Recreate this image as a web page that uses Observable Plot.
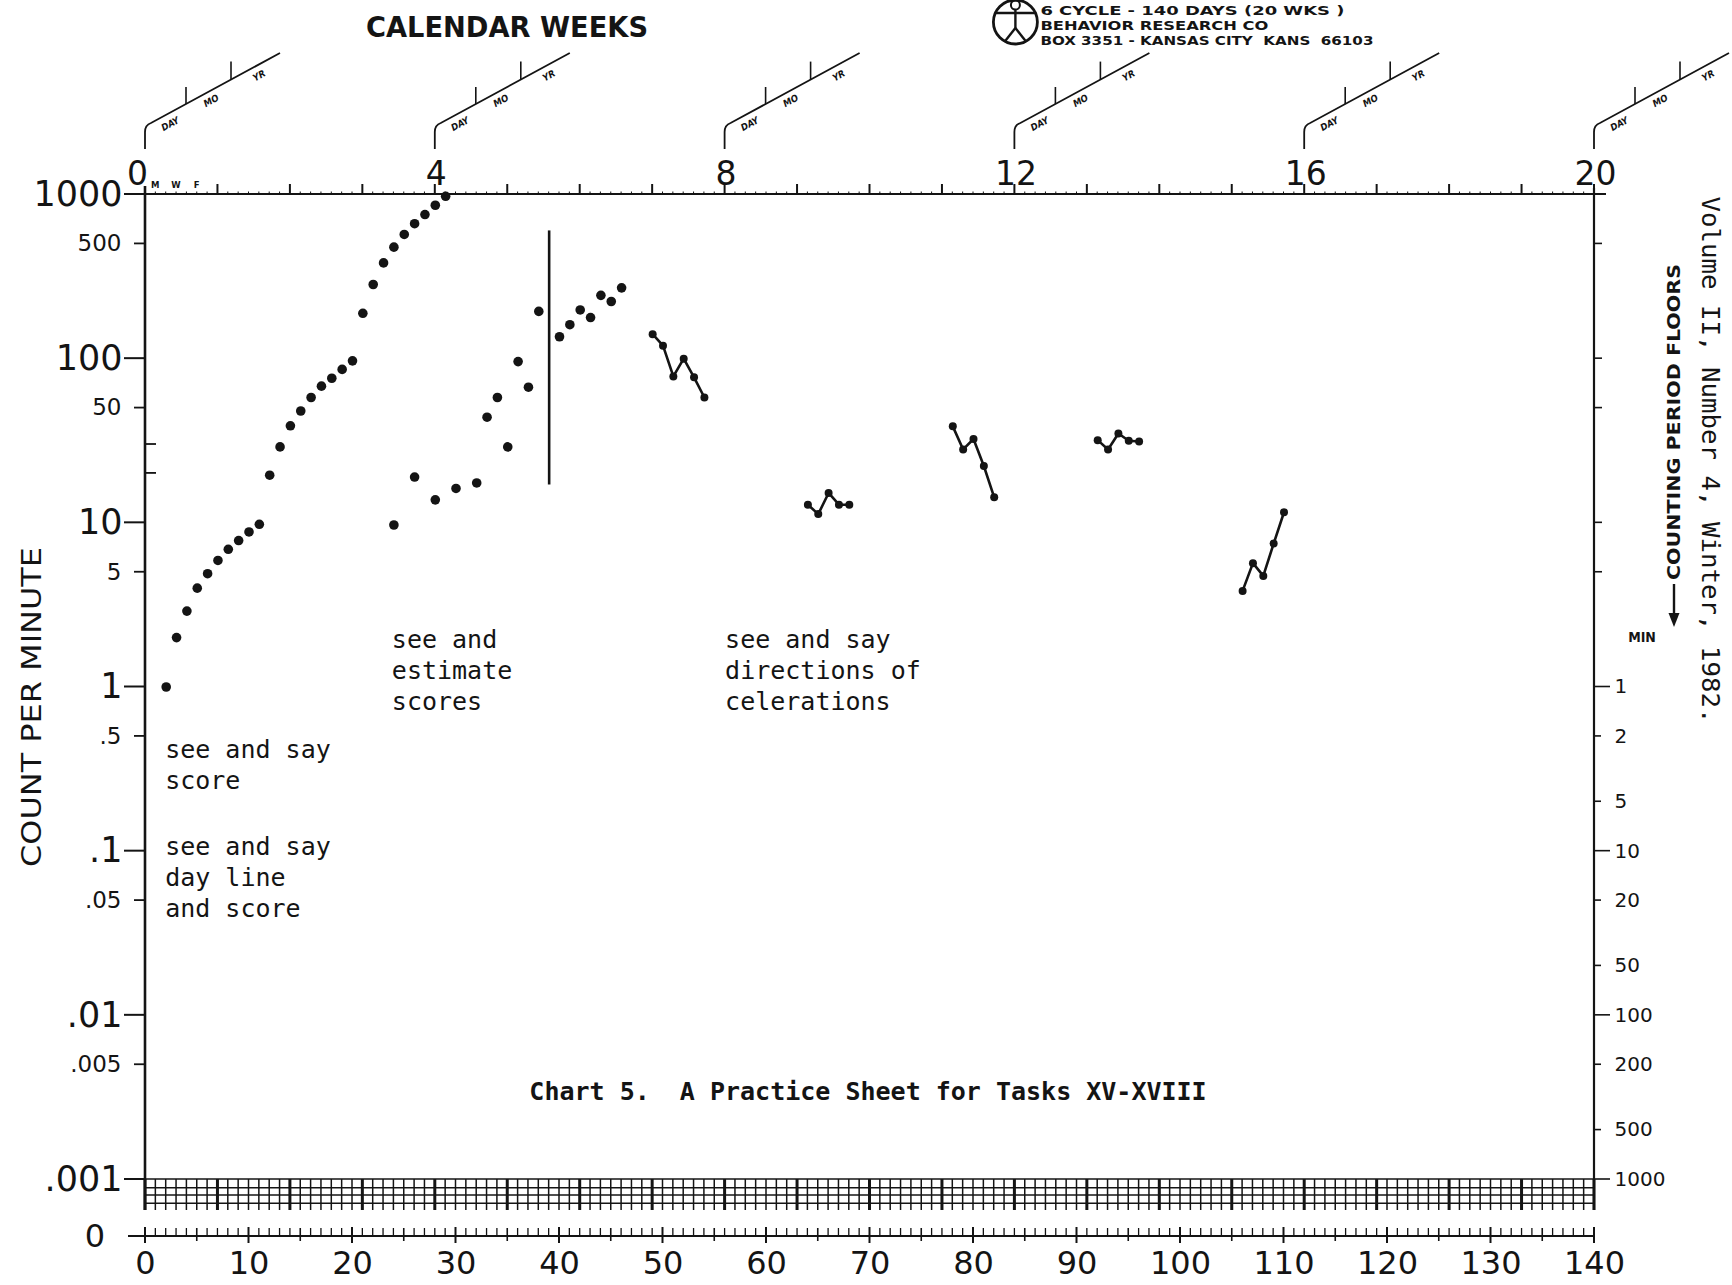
<!DOCTYPE html>
<html>
<head>
<meta charset="utf-8">
<script src="https://cdn.jsdelivr.net/npm/d3@7"></script>
<script src="https://cdn.jsdelivr.net/npm/@observablehq/plot@0.6"></script>
<style>
html, body { margin: 0; padding: 0; background: #fff; }
#chart svg { display: block; }
</style>
</head>
<body>
<div id="chart"></div>
<script>
const INK = "#141414";
const MONO = "'DejaVu Sans Mono', 'Liberation Mono', monospace";
const SANS = "'DejaVu Sans', 'Noto Sans', sans-serif";
const COND = "'DejaVu Sans Condensed', 'DejaVu Sans', sans-serif";

// ---------------- data ----------------
// calendar weeks labelled along the top, day numbers along the bottom
const weekNumbers = [0, 4, 8, 12, 16, 20];
const dayLabels = [0, 10, 20, 30, 40, 50, 60, 70, 80, 90, 100, 110, 120, 130, 140];
const weekdayLetters = ["M", "W", "F"];
const weekdayDays = [1, 3, 5];

// count-per-minute axis
const decadeTicks = [1000, 100, 10, 1, 0.1, 0.01, 0.001];
const decadeLabels = ["1000", "100", "10", "1", ".1", ".01", ".001"];
const halfTicks = [500, 50, 5, 0.5, 0.05, 0.005];
const halfLabels = ["500", "50", "5", ".5", ".05", ".005"];
const innerTicks = [30, 20];
const rightTicks = [500, 100, 50, 10, 5];

// counting period floors (minutes)
const floorMinutes = [1, 2, 5, 10, 20, 50, 100, 200, 500, 1000];
const floorLabels = ["1", "2", "5", "10", "20", "50", "100", "200", "500", "1000"];

// "see and say score" dots
const sayScoreDays = [2, 3, 4, 5, 6, 7, 8, 9, 10, 11, 12, 13, 14, 15, 16, 17, 18, 19, 20, 21, 22, 23, 24, 25, 26, 27, 28, 29];
const sayScoreCounts = [1.0, 2.0, 2.9, 4.0, 4.9, 5.9, 6.9, 7.8, 8.8, 9.8, 19.5, 29, 39, 48, 58, 68, 76, 86, 97, 189, 283, 383, 478, 571, 664, 755, 860, 975];

// "see and estimate scores" dots
const estimateDays = [24, 26, 28, 30, 32, 33, 34, 35, 36, 37, 38, 40, 41, 42, 43, 44, 45, 46];
const estimateCounts = [9.7, 19, 13.8, 16.2, 17.5, 44, 58, 29, 96, 67, 194, 136, 161, 198, 178, 243, 223, 270];

// phase change line
const phaseDays = [39];
const phaseLow = 17;
const phaseHigh = 600;

// celeration practice sets (connected)
const celerationSets = ["A", "B", "C", "D", "E"];
const celerationDays = [
  [49, 50, 51, 52, 53, 54],
  [64, 65, 66, 67, 68],
  [78, 79, 80, 81, 82],
  [92, 93, 94, 95, 96],
  [106, 107, 108, 109, 110]
];
const celerationCounts = [
  [141, 120, 78, 100, 77, 58],
  [12.9, 11.3, 15.2, 12.9, 12.9],
  [38.7, 28, 32.4, 22.2, 14.3],
  [31.9, 28, 35, 31.6, 31.3],
  [3.85, 5.68, 4.75, 7.48, 11.6]
];

// notes written on the sheet
const noteTexts = ["see and say\nscore", "see and say\nday line\nand score", "see and\nestimate\nscores", "see and say\ndirections of\ncelerations"];
const noteDays = [1.9, 1.9, 23.8, 56.0];
const noteCounts = [0.24, 0.0398, 0.724, 0.724];

const captionText = "Chart 5.  A Practice Sheet for Tasks XV-XVIII";

// ---------------- tables ----------------
const sayScore = sayScoreDays.map((d, i) => ({day: d, count: sayScoreCounts[i]}));
const estimate = estimateDays.map((d, i) => ({day: d, count: estimateCounts[i]}));
const celeration = celerationSets.flatMap((s, k) => celerationDays[k].map((d, i) => ({set: s, day: d, count: celerationCounts[k][i]})));
const notes = noteTexts.map((t, i) => ({text: t, day: noteDays[i], count: noteCounts[i]}));
const decades = decadeTicks.map((v, i) => ({v, label: decadeLabels[i]}));
const halves = halfTicks.map((v, i) => ({v, label: halfLabels[i]}));
const floors = floorMinutes.map((m, i) => ({count: 1 / m, label: floorLabels[i]}));
const weekdays = weekdayDays.map((d, i) => ({day: d, label: weekdayLetters[i]}));

// ---------------- sheet furniture (drawn from the plot's scales) ----------------
function chartSheet(index, scales) {
  const x = scales.x, y = scales.y;
  const L = x(0), R = x(140), T = y(1000), F = y(0.001);
  const g = d3.create("svg:g").attr("fill", "none").attr("stroke", INK).attr("stroke-linecap", "butt");
  const seg = (x1, y1, x2, y2, w) => g.append("line").attr("x1", x1).attr("y1", y1).attr("x2", x2).attr("y2", y2).attr("stroke-width", w);
  const txt = (s, o) => {
    const t = g.append("text").attr("fill", INK).attr("stroke", "none")
      .attr("font-family", o.family || SANS).attr("font-size", o.size || 12)
      .attr("font-weight", o.weight || "normal").attr("text-anchor", o.anchor || "start")
      .attr("transform", o.transform).text(s);
    if (o.style) t.attr("font-style", o.style);
    if (o.baseline) t.attr("dominant-baseline", o.baseline);
    if (o.length) t.attr("textLength", o.length).attr("lengthAdjust", "spacingAndGlyphs");
    return t;
  };

  // top day line with week ticks
  seg(L - 21, T, R + 12, T, 2.2);
  for (let d = 1; d < 140; d++) if (d % 7) seg(x(d), T - 2.5, x(d), T + 0.5, 1);
  for (let w = 1; w <= 20; w++) seg(x(w * 7), T - 10, x(w * 7), T + 1, 2);

  // vertical axes
  seg(L, T - 8, L, F + 31, 2.6);
  seg(R, T - 6, R, F + 31, 2.2);

  // left ticks
  decadeTicks.forEach(v => seg(L - 21, y(v), L, y(v), 2));
  halfTicks.forEach(v => seg(L - 11, y(v), L, y(v), 1.8));
  innerTicks.forEach(v => seg(L, y(v), L + 11, y(v), 1.8));

  // right ticks and counting-period floors
  rightTicks.forEach(v => seg(R, y(v), R + 8, y(v), 1.6));
  floorMinutes.forEach(m => seg(R, y(1 / m), R + (Math.log10(m) % 1 === 0 ? 16 : 7), y(1 / m), 1.6));

  // hatched band below .001
  [0, 8.7, 16, 24.3].forEach(o => seg(L, F + o, R, F + o, 1.4));
  for (let d = 0; d <= 140; d++) seg(x(d), F, x(d), F + 31, d % 7 === 0 ? 3 : 1.5);

  // zero line
  const Z = F + 57;
  seg(L - 17, Z, R, Z, 2);
  for (let d = 0; d <= 140; d++) {
    if (d % 10 === 0) seg(x(d), Z - 9, x(d), Z + 7, 2);
    else if (d % 5 === 0) seg(x(d), Z - 8, x(d), Z + 5, 1.6);
    else seg(x(d), Z - 8, x(d), Z, 1.3);
  }
  txt("0", {transform: `translate(${L - 40},${Z})`, size: 32, anchor: "end", baseline: "central"});

  // DAY / MO / YR date boxes
  const k = 70 / 129, ang = -Math.atan(k) * 180 / Math.PI;
  const diagY = (r) => T - 71 - k * (r - 6);
  weekNumbers.forEach(w => {
    const x0 = x(w * 7);
    g.append("path").attr("stroke-width", 1.8)
      .attr("d", `M${x0},${T - 45}V${T - 62}Q${x0},${T - 69} ${x0 + 6},${T - 71}L${x0 + 135},${diagY(135)}`);
    seg(x0 + 41, diagY(41), x0 + 41, diagY(41) - 17, 1.6);
    seg(x0 + 86, diagY(86), x0 + 86, diagY(86) - 18, 1.6);
    [["DAY", 25, 11], ["MO", 66, 10], ["YR", 114, 11]].forEach(([s, r, off]) =>
      txt(s, {transform: `translate(${x0 + r},${diagY(r) + off}) rotate(${ang})`, size: 9.5, weight: "bold",
              style: "italic", family: COND, anchor: "middle", baseline: "central"}));
  });

  // heading
  txt("CALENDAR WEEKS", {transform: `translate(${L + 362},${T - 157})`, size: 29, weight: "bold",
                         family: COND, anchor: "middle", length: 282});

  // publisher logo
  const cx = x(84) + 1, cy = T - 172;
  g.append("circle").attr("cx", cx).attr("cy", cy).attr("r", 22).attr("stroke-width", 2.8);
  g.append("circle").attr("cx", cx).attr("cy", cy - 17).attr("r", 4.5).attr("stroke-width", 2);
  seg(cx - 21, cy - 9, cx + 21, cy - 9, 2.4);
  seg(cx, cy - 12, cx, cy + 6, 2.4);
  seg(cx, cy + 6, cx - 11, cy + 20, 2.4);
  seg(cx, cy + 6, cx + 11, cy + 20, 2.4);
  [["6 CYCLE - 140 DAYS (20 WKS )", -7.5, 304], ["BEHAVIOR RESEARCH CO", 8, 228], ["BOX 3351 - KANSAS CITY  KANS  66103", 23, 333]]
    .forEach(([s, dy, len]) => txt(s, {transform: `translate(${cx + 25},${cy + dy})`, size: 13, weight: "bold", family: COND, length: len}));

  // axis titles and margin notes
  txt("COUNT PER MINUTE", {transform: `translate(${L - 114},707) rotate(-90)`, size: 27, anchor: "middle", baseline: "central", length: 320});
  txt("COUNTING PERIOD FLOORS", {transform: `translate(${R + 80},422) rotate(-90)`, size: 17, weight: 600, family: COND,
                                 anchor: "middle", baseline: "central", length: 316});
  seg(R + 80, 584, R + 80, 616, 2.4);
  g.append("path").attr("fill", INK).attr("stroke", "none").attr("d", `M${R + 74.5},613L${R + 85.5},613L${R + 80},627Z`);
  txt("MIN", {transform: `translate(${R + 48},${y(1) - 45})`, size: 14, weight: "bold", family: COND, anchor: "middle"});
  txt("Volume II, Number 4, Winter, 1982.", {transform: `translate(${R + 116},460) rotate(90)`, size: 25, family: MONO,
                                              anchor: "middle", baseline: "central", length: 527});

  // weekday letters
  weekdays.forEach(d => txt(d.label, {transform: `translate(${x(d.day)},${T - 6})`, size: 8.5, weight: "bold", anchor: "middle"}));

  return g.node();
}

const plot = Plot.plot({
  width: 1732,
  height: 1285,
  marginLeft: 145,
  marginRight: 138,
  marginTop: 194,
  marginBottom: 106,
  style: {background: "#fff", color: INK, overflow: "visible"},
  x: {domain: [0, 140], axis: null},
  y: {type: "log", domain: [0.001, 1000], axis: null},
  marks: [
    chartSheet,
    // tick labels
    Plot.text(decades, {y: "v", text: "label", frameAnchor: "left", dx: -23, textAnchor: "end", lineAnchor: "middle",
                        fontSize: 35, fontFamily: SANS, fill: INK}),
    Plot.text(halves, {y: "v", text: "label", frameAnchor: "left", dx: -24, textAnchor: "end", lineAnchor: "middle",
                       fontSize: 23, fontFamily: SANS, fill: INK}),
    Plot.text(floors, {y: "count", text: "label", frameAnchor: "right", dx: 20, textAnchor: "start", lineAnchor: "middle",
                       fontSize: 20, fontFamily: SANS, fill: INK}),
    Plot.text(dayLabels, {x: d => d, text: d => String(d), frameAnchor: "bottom", dy: 84, lineAnchor: "middle",
                          fontSize: 32, fontFamily: SANS, fill: INK}),
    Plot.text(weekNumbers.filter(w => w > 0), {x: w => w * 7, text: w => String(w), frameAnchor: "top", dy: -10, dx: 1,
                            lineAnchor: "bottom", fontSize: 33, fontFamily: SANS, fill: INK}),
    Plot.text(weekNumbers.filter(w => w === 0), {x: w => w * 7, text: w => String(w), frameAnchor: "top", dy: -10, dx: -8,
                            lineAnchor: "bottom", fontSize: 33, fontFamily: SANS, fill: INK}),
    // notes and caption
    Plot.text(notes, {x: "day", y: "count", text: "text", textAnchor: "start", lineAnchor: "bottom", lineHeight: 1.24,
                      fontSize: 25, fontFamily: MONO, fill: INK}),
    Plot.text([captionText], {text: d => d, frameAnchor: "bottom", dy: -80, dx: -2, lineAnchor: "bottom",
                              fontSize: 25, fontWeight: "bold", fontFamily: MONO, fill: INK}),
    // data
    Plot.ruleX(phaseDays, {x: d => d, y1: phaseLow, y2: phaseHigh, stroke: INK, strokeWidth: 2.6}),
    Plot.dot(sayScore, {x: "day", y: "count", r: 4.8, fill: INK}),
    Plot.dot(estimate, {x: "day", y: "count", r: 4.8, fill: INK}),
    Plot.line(celeration, {x: "day", y: "count", z: "set", stroke: INK, strokeWidth: 2.6}),
    Plot.dot(celeration, {x: "day", y: "count", z: "set", r: 4, fill: INK})
  ]
});

document.getElementById("chart").appendChild(plot);
</script>
</body>
</html>
